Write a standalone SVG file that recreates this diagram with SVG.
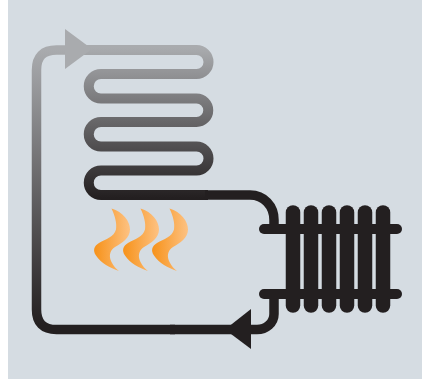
<svg xmlns="http://www.w3.org/2000/svg" width="422" height="379" viewBox="0 0 422 379">
<defs>
<linearGradient id="coilGrad" gradientUnits="userSpaceOnUse" x1="0" y1="48" x2="0" y2="198">
<stop offset="0" stop-color="#a9abae"/><stop offset="1" stop-color="#231f20"/>
</linearGradient>
<linearGradient id="loopGrad" gradientUnits="userSpaceOnUse" x1="0" y1="50" x2="0" y2="325">
<stop offset="0" stop-color="#a9abae"/><stop offset="1" stop-color="#231f20"/>
</linearGradient>
<linearGradient id="flameGrad" x1="0" y1="0" x2="1" y2="0">
<stop offset="0.05" stop-color="#f7941e"/><stop offset="1" stop-color="#fdc283"/>
</linearGradient>
<path id="flame" d="M111.500 208.500C123 212 130 221 130 229.500C130 238 122 243 115 247C109 251 109 257 111.500 262C113.500 266 116 269 119 271C110 268 101 263 96 255.500C92.500 250.500 94 246 99 243C106 239 114 237 116 229.500C117 223 115 216 111.500 208.500Z" fill="url(#flameGrad)"/>
<style>
.pipe{fill:none;stroke-width:9.500;stroke-linecap:butt}
.dark{fill:#231f20}
.bar{fill:none;stroke:#231f20;stroke-width:10;stroke-linecap:round}
.col{fill:none;stroke:#231f20;stroke-width:14.500;stroke-linecap:round}
</style>
</defs>
<rect x="8" y="0" width="414" height="379" fill="#d5dce2"/>
<g id="connectors">
<path id="return-pipe" class="pipe" stroke="url(#loopGrad)" d="M175 329.500H56.500Q36.500 329.500 36.500 309.500V70Q36.500 50 56.500 50H70"/>
<path id="coil" class="pipe" stroke="url(#coilGrad)" style="stroke-width:10" d="M70 50H196.500A12 12 0 0 1 196.500 74H101A12.250 12.250 0 0 0 101 98.500H196.500A11.750 11.750 0 0 1 196.500 122H101A12.250 12.250 0 0 0 101 146.500H196.500A12 12 0 0 1 196.500 170.500H101A12.250 12.250 0 0 0 101 195H208"/>
<path id="supply-pipe" class="pipe" stroke="#231f20" d="M205 195H250C264 195 274 206 274 220V229"/>
<path id="lower-pipe" class="pipe" stroke="#231f20" d="M274 294V314C274 323 266 329.500 257 329.500H170"/>
<polygon id="arrow-top" points="65,29 92,49 65,69" fill="#a9abae"/>
<polygon id="arrow-bottom" class="dark" points="251,309 225,329.500 251,349"/>
</g>
<g id="radiator">
<path class="col" d="M293 212.500V305.500"/>
<path class="col" d="M311 212.500V305.500"/>
<path class="col" d="M329 212.500V305.500"/>
<path class="col" d="M347 212.500V305.500"/>
<path class="col" d="M365 212.500V305.500"/>
<path class="col" d="M383 212.500V305.500"/>
<path class="bar" d="M264 229H397"/>
<path class="bar" d="M264 294H397"/>
</g>
<g id="flames">
<use href="#flame"/>
<use href="#flame" x="29"/>
<use href="#flame" x="58"/>
</g>
</svg>
